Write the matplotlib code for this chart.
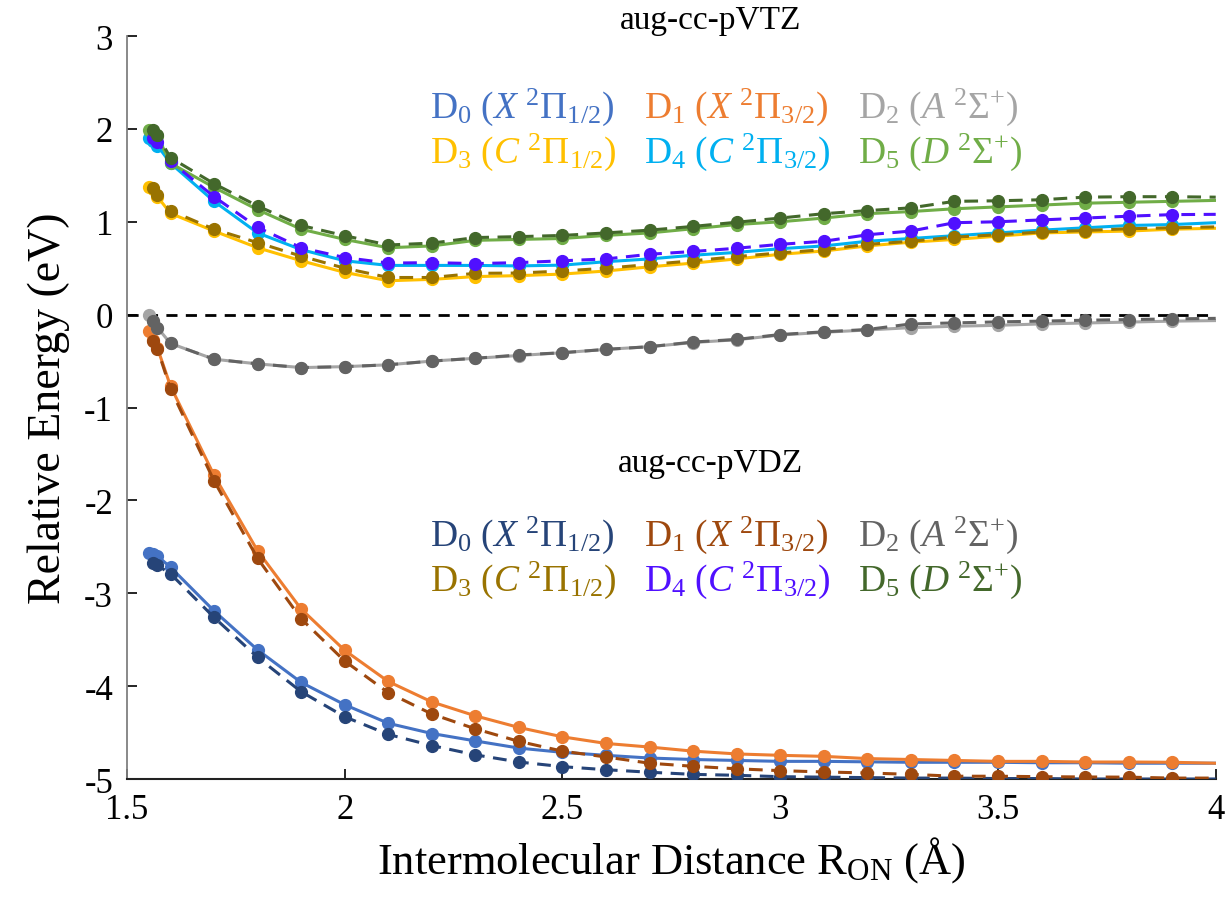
import matplotlib
matplotlib.use("Agg")
import matplotlib.pyplot as plt

plt.rcParams['font.family'] = ['Liberation Serif', 'DejaVu Serif']
plt.rcParams['mathtext.fontset'] = 'custom'
plt.rcParams['mathtext.rm'] = 'Liberation Serif'
plt.rcParams['mathtext.it'] = 'Liberation Serif:italic'
plt.rcParams['axes.unicode_minus'] = False

# distances (angstrom); the aug-cc-pVDZ set starts one step later
r_tz = [1.55, 1.56, 1.57, 1.6, 1.7, 1.8, 1.9, 2.0, 2.1, 2.2, 2.3, 2.4, 2.5, 2.6,
        2.7, 2.8, 2.9, 3.0, 3.1, 3.2, 3.3, 3.4, 3.5, 3.6, 3.7, 3.8, 3.9, 4.0]
r_dz = r_tz[1:]

# aug-cc-pVTZ (solid)
tz_d0 = [-2.57, -2.58, -2.60, -2.72, -3.19, -3.61, -3.96, -4.20, -4.40, -4.51, -4.59, -4.667, -4.713, -4.745,
         -4.774, -4.79, -4.80, -4.81, -4.81, -4.815, -4.82, -4.82, -4.82, -4.825, -4.825, -4.83, -4.83, -4.83]
tz_d1 = [-0.18, -0.27, -0.36, -0.77, -1.73, -2.544, -3.17, -3.615, -3.95, -4.17, -4.32, -4.445, -4.546, -4.617,
         -4.656, -4.70, -4.73, -4.745, -4.756, -4.78, -4.79, -4.80, -4.81, -4.81, -4.817, -4.817, -4.82, -4.83]
tz_d2 = [0.0, -0.07, -0.14, -0.31, -0.48, -0.53, -0.57, -0.56, -0.54, -0.50, -0.47, -0.44, -0.41, -0.374,
         -0.345, -0.30, -0.27, -0.22, -0.19, -0.165, -0.14, -0.125, -0.115, -0.10, -0.09, -0.08, -0.07, -0.064]
tz_d3 = [1.37, 1.35, 1.27, 1.09, 0.90, 0.72, 0.58, 0.455, 0.365, 0.38, 0.41, 0.42, 0.437, 0.47,
         0.515, 0.555, 0.60, 0.65, 0.685, 0.74, 0.78, 0.81, 0.845, 0.88, 0.89, 0.90, 0.92, 0.93]
tz_d4 = [1.90, 1.87, 1.82, 1.63, 1.22, 0.88, 0.70, 0.58, 0.53, 0.53, 0.53, 0.525, 0.533, 0.57,
         0.60, 0.64, 0.67, 0.71, 0.74, 0.79, 0.82, 0.85, 0.88, 0.91, 0.935, 0.96, 0.97, 0.99]
tz_d5 = [1.99, 1.97, 1.92, 1.63, 1.37, 1.13, 0.92, 0.81, 0.72, 0.74, 0.80, 0.81, 0.82, 0.853,
         0.88, 0.925, 0.97, 1.0, 1.04, 1.087, 1.11, 1.14, 1.16, 1.18, 1.20, 1.21, 1.22, 1.23]

# aug-cc-pVDZ (dashed)
dz_d0 = [-2.67, -2.70, -2.79, -3.26, -3.69, -4.06, -4.33, -4.52, -4.64, -4.74, -4.817, -4.867, -4.90,
         -4.927, -4.95, -4.96, -4.975, -4.98, -4.985, -4.99, -4.99, -4.995, -4.995, -5.0, -5.0, -5.0, -5.0]
dz_d1 = [-0.28, -0.37, -0.80, -1.79, -2.625, -3.275, -3.73, -4.07, -4.30, -4.46, -4.595, -4.70, -4.763,
         -4.83, -4.863, -4.89, -4.91, -4.924, -4.935, -4.95, -4.97, -4.97, -4.975, -4.978, -4.98, -4.99, -4.99]
dz_d2 = [-0.07, -0.14, -0.31, -0.48, -0.53, -0.57, -0.56, -0.54, -0.50, -0.47, -0.434, -0.41, -0.374,
         -0.345, -0.295, -0.267, -0.214, -0.185, -0.16, -0.10, -0.089, -0.078, -0.07, -0.06, -0.053, -0.046, -0.04]
dz_d3 = [1.36, 1.29, 1.12, 0.92, 0.775, 0.63, 0.50, 0.40, 0.40, 0.445, 0.448, 0.47, 0.50,
         0.54, 0.58, 0.625, 0.665, 0.70, 0.757, 0.79, 0.835, 0.86, 0.89, 0.906, 0.925, 0.935, 0.945]
dz_d4 = [1.90, 1.86, 1.65, 1.27, 0.94, 0.72, 0.615, 0.555, 0.56, 0.55, 0.56, 0.58, 0.60,
         0.65, 0.68, 0.715, 0.757, 0.79, 0.86, 0.90, 0.99, 1.0, 1.02, 1.04, 1.06, 1.077, 1.08]
dz_d5 = [1.99, 1.93, 1.69, 1.41, 1.17, 0.96, 0.85, 0.75, 0.77, 0.83, 0.84, 0.853, 0.88,
         0.91, 0.95, 0.995, 1.04, 1.087, 1.12, 1.15, 1.22, 1.226, 1.237, 1.265, 1.27, 1.27, 1.265]

labels = [r'D$_0$ ($X\ ^2\Pi_{1/2}$)', r'D$_1$ ($X\ ^2\Pi_{3/2}$)', r'D$_2$ ($A\ ^2\Sigma^{+}$)',
          r'D$_3$ ($C\ ^2\Pi_{1/2}$)', r'D$_4$ ($C\ ^2\Pi_{3/2}$)', r'D$_5$ ($D\ ^2\Sigma^{+}$)']
tz_colors = ['#4472C4', '#ED7D31', '#A5A5A5', '#FFC000', '#00B0F0', '#70AD47']
dz_colors = ['#264478', '#9E480E', '#636363', '#997300', '#5010FF', '#43682B']

tz_series = [tz_d0, tz_d1, tz_d2, tz_d3, tz_d4, tz_d5]
dz_series = [dz_d0, dz_d1, dz_d2, dz_d3, dz_d4, dz_d5]

fig = plt.figure(figsize=(12.28, 9.03), dpi=100)
ax = fig.add_axes([0.1034, 0.1362, 0.8866, 0.8228])

# zero reference
ax.axhline(0, color='black', lw=2.0, ls=(0, (4, 3)), zorder=1)

for ys, c in zip(tz_series, tz_colors):
    ax.plot(r_tz, ys, color=c, lw=2.2, marker='o', ms=8.5, markevery=list(range(len(r_tz) - 1)), zorder=2)
for ys, c in zip(dz_series, dz_colors):
    ax.plot(r_dz, ys, color=c, lw=2.2, ls=(0, (4.5, 2.8)), marker='o', ms=8.5,
            markevery=list(range(len(r_dz) - 1)), zorder=3)

ax.set_xlim(1.5, 4.0)
ax.set_ylim(-5, 3)
ax.set_xticks([1.5, 2, 2.5, 3, 3.5, 4])
ax.set_xticklabels(['1.5', '2', '2.5', '3', '3.5', '4'])
ax.set_yticks(range(-5, 4))
ax.tick_params(axis='both', direction='in', length=7, width=1.2, labelsize=25, pad=10)
for side in ['top', 'right']:
    ax.spines[side].set_visible(False)
ax.spines['left'].set_color('#808080')
ax.spines['bottom'].set_color('#222222')
ax.spines['left'].set_linewidth(1.3)
ax.spines['bottom'].set_linewidth(1.5)

ax.set_xlabel(r'Intermolecular Distance R$_{\mathrm{ON}}$ (Å)', fontsize=32, labelpad=6)
ax.set_ylabel('Relative Energy (eV)', fontsize=33, labelpad=10)

# text legends
col_x = [2.195, 2.688, 3.178]
ax.text(2.84, 3.18, 'aug-cc-pVTZ', fontsize=24, ha='center', va='center', clip_on=False)
ax.text(2.84, -1.59, 'aug-cc-pVDZ', fontsize=24, ha='center', va='center')
for i, lab in enumerate(labels):
    row, col = divmod(i, 3)
    ax.text(col_x[col], 2.24 - row * 0.48, lab, color=tz_colors[i], fontsize=27, ha='left', va='center')
    ax.text(col_x[col], -2.37 - row * 0.48, lab, color=dz_colors[i], fontsize=27, ha='left', va='center')

fig.savefig('out.png', dpi=100)
